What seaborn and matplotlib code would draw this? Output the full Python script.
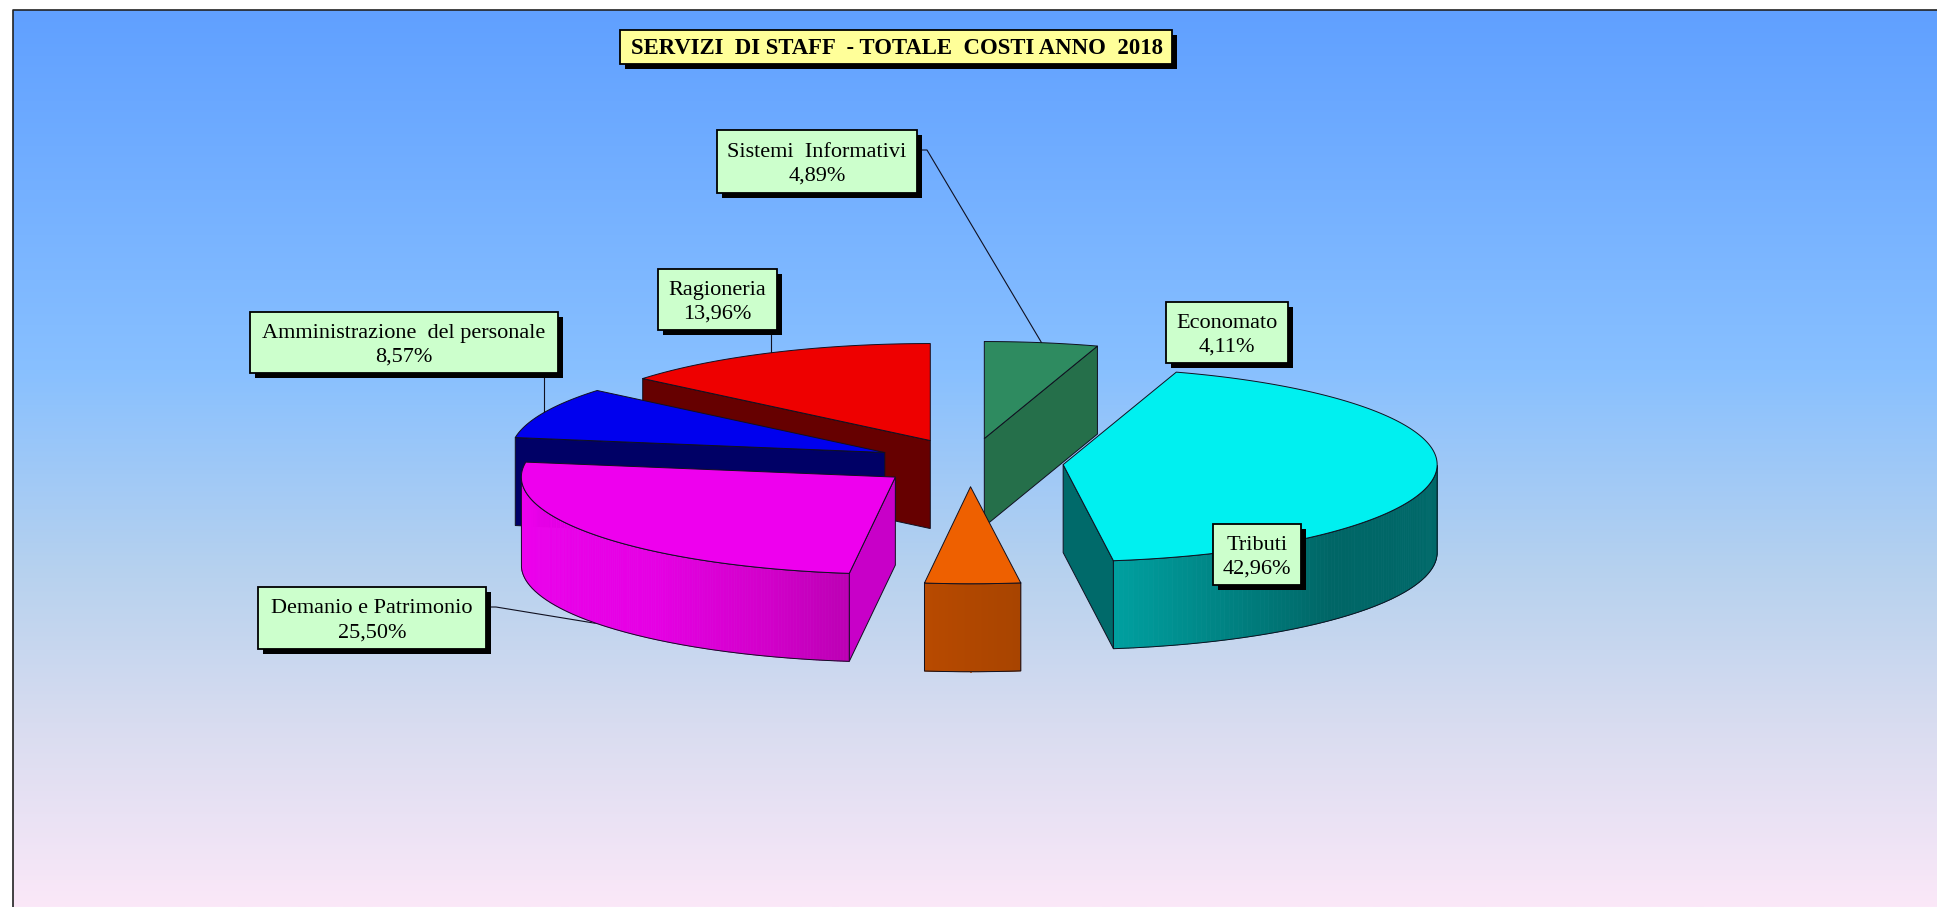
import numpy as np
import matplotlib
matplotlib.use("Agg")
import matplotlib.pyplot as plt
from matplotlib.patches import Rectangle
from matplotlib.colors import to_rgb
import seaborn as sns

# ---- data -------------------------------------------------------------
TITLE = "SERVIZI  DI STAFF  - TOTALE  COSTI ANNO  2018"
categories = ["Sistemi  Informativi", "Tributi", "Economato",
              "Demanio e Patrimonio", "Amministrazione  del personale", "Ragioneria"]
shares = [4.89, 42.96, 4.11, 25.50, 8.57, 13.96]

# ---- style ------------------------------------------------------------
sns.set_theme(style="white")
plt.rcParams["font.family"] = ["Liberation Serif", "DejaVu Serif"]

top_colors = sns.color_palette(["#2e8b60", "#00f0f0", "#ee6000", "#ee00ee", "#0000ee", "#ee0000"])
side_colors = ["#256f4a", "#006a6a", "#b84a00", "#c800c8", "#000066", "#660000"]
wall_stops = {
    1: [(-82.3, "#00a0a0"), (-60, "#007c7c"), (-45, "#006666"), (0, "#006a6a")],
    2: [(-97.1, "#b84a00"), (-82.3, "#a84400")],
    3: [(-180, "#ee00ee"), (-130, "#e600e4"), (-110, "#d200ca"), (-97.1, "#bc00b4")],
}
draw_order = [5, 4, 3, 0, 1, 2]

CX, CY, RX, RY, DEPTH, EXPLODE = 970.0, 462.5, 374.0, 97.0, 88.0, 0.25
LINE = "#101020"

fig = plt.figure(figsize=(19.37, 9.07), dpi=100, facecolor="white")
ax = fig.add_axes([0, 0, 1, 1])
ax.axis("off")

# background gradient
bg_y = [10, 370, 578, 723, 907]
bg_c = np.array([to_rgb(c) for c in ["#60a0ff", "#88c0ff", "#b8d2ee", "#d8dcf0", "#fbe8f8"]])
yy = np.linspace(10, 907, 600)
grad = np.stack([np.interp(yy, bg_y, bg_c[:, n]) for n in range(3)], axis=1)[:, None, :]
ax.imshow(grad, extent=[13, 1937, 907, 10], aspect="auto", zorder=0, interpolation="bilinear")
ax.plot([13, 13, 1937], [907, 10, 10], color="#222222", lw=1.2, zorder=1)
ax.set_xlim(0, 1937)
ax.set_ylim(907, 0)


def pt(ax_, ay_, t):
    r = np.radians(t)
    return ax_ + RX * np.cos(r), ay_ - RY * np.sin(r)


# slice angles from the shares, clockwise from 12 o'clock
values = np.array(shares)
edges = 90 - np.concatenate([[0], np.cumsum(values)]) / values.sum() * 360
apexes = []
for i in range(len(values)):
    mid = np.radians((edges[i] + edges[i + 1]) / 2)
    apexes.append((CX + EXPLODE * RX * np.cos(mid), CY - EXPLODE * RY * np.sin(mid)))

z = 3
for i in draw_order:
    t0, t1 = edges[i], edges[i + 1]
    ax0, ay0 = apexes[i]
    ts = np.linspace(t0, t1, 200)
    xs, ys = pt(ax0, ay0, ts)
    # radial faces
    for t, visible in ((t0, np.cos(np.radians(t0)) < -1e-6), (t1, np.cos(np.radians(t1)) > 1e-6)):
        if visible:
            px, py = pt(ax0, ay0, t)
            ax.fill([ax0, px, px, ax0], [ay0, py, py + DEPTH, ay0 + DEPTH],
                    facecolor=side_colors[i], edgecolor=LINE, lw=0.7, zorder=z)
    # outer wall (front half only)
    front = np.sin(np.radians(ts)) < 0
    if front.any():
        tw, xw, yw = ts[front], xs[front], ys[front]
        stops = wall_stops.get(i)
        sa = [s[0] for s in stops]
        sc = np.array([to_rgb(s[1]) for s in stops])
        for k in range(len(tw) - 1):
            tm = (tw[k] + tw[k + 1]) / 2
            col = [np.interp(tm, sa, sc[:, n]) for n in range(3)]
            ax.fill([xw[k], xw[k + 1], xw[k + 1], xw[k]],
                    [yw[k], yw[k + 1], yw[k + 1] + DEPTH, yw[k] + DEPTH],
                    facecolor=col, edgecolor=col, lw=0.5, joinstyle="round", zorder=z)
        ax.plot(np.r_[xw, xw[::-1], xw[0]], np.r_[yw, yw[::-1] + DEPTH, yw[0]],
                color=LINE, lw=0.7, solid_joinstyle="round", zorder=z)
    # top
    ax.fill(np.r_[ax0, xs], np.r_[ay0, ys], facecolor=top_colors[i],
            edgecolor=LINE, lw=0.7, joinstyle="round", zorder=z)
    z += 1

# labels: box left, top, right, bottom
boxes = {0: (717, 130, 917, 193), 1: (1213, 524, 1301, 585), 2: (1166, 302, 1288, 363),
         3: (258, 587, 486, 649), 4: (250, 312, 558, 373), 5: (658, 269, 777, 330)}
SHADOW_X, SHADOW_Y = 5, 5


def box(l, t, r, b, face, zorder):
    ax.add_patch(Rectangle((l + SHADOW_X, t + SHADOW_Y), r - l, b - t, facecolor="black",
                           edgecolor="none", zorder=zorder))
    ax.add_patch(Rectangle((l, t), r - l, b - t, facecolor=face, edgecolor="black",
                           lw=1.3, zorder=zorder + 0.1))


# leader lines
for i, (side_y, use_depth) in {0: (150, False), 3: (607, True)}.items():
    mid = (edges[i] + edges[i + 1]) / 2
    ex, ey = pt(*apexes[i], mid)
    ey += DEPTH if use_depth else 0
    l, t, r, b = boxes[i]
    ax.plot([r, r + 10, ex], [side_y, side_y, ey], color=LINE, lw=0.8, zorder=2)
for i in (4, 5):
    mid = (edges[i] + edges[i + 1]) / 2
    ex, ey = pt(*apexes[i], mid)
    ax.plot([ex, ex], [boxes[i][3], ey], color=LINE, lw=0.8, zorder=2)

for i, name in enumerate(categories):
    l, t, r, b = boxes[i]
    box(l, t, r, b, "#ccffcc", 20)
    pct = f"{shares[i]:.2f}".replace(".", ",") + "%"
    ax.text((l + r) / 2, (t + b) / 2 + 3, f"{name}\n{pct}", ha="center", va="center",
            fontsize=16, linespacing=1.36, color="black", zorder=21)

# title
box(620, 30, 1172, 64, "#ffff99", 20)
ax.text(897, 49, TITLE, ha="center", va="center", fontsize=16.4, fontweight="bold",
        color="black", zorder=21)

fig.savefig("out.png", dpi=100)
